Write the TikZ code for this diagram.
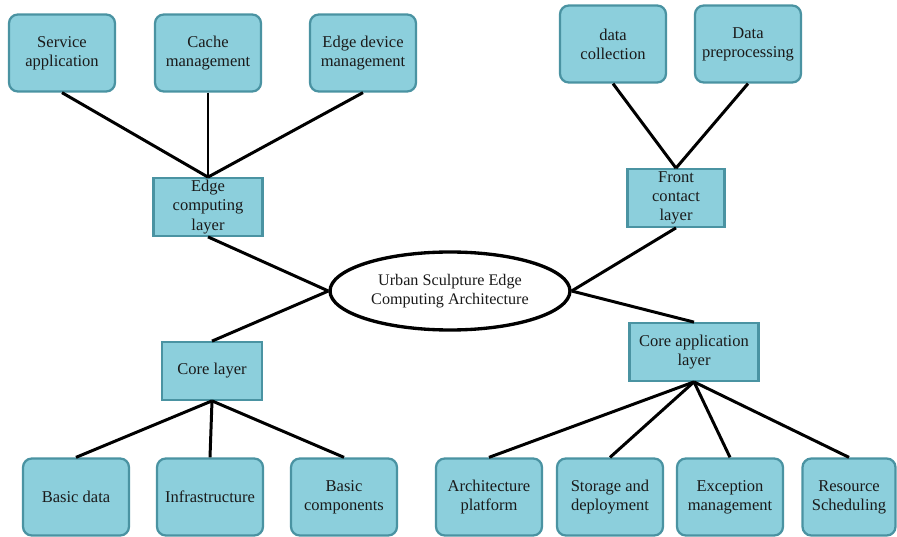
\documentclass[tikz,border=0pt]{standalone}
\usepackage{fontspec}
\setmainfont{Liberation Serif}
\usetikzlibrary{positioning,shapes.geometric}
\definecolor{cBox}{HTML}{8CCFDC}
\definecolor{cRim}{HTML}{4A93A2}
\definecolor{cInk}{HTML}{1A1A1A}
\tikzset{
  leaf/.style={rounded corners=5pt,draw=cRim,line width=1.3pt,fill=cBox,
               minimum width=2.12cm,minimum height=1.54cm,inner sep=1pt,
               align=center,font=\fontsize{9.4}{10.9}\selectfont,text=cInk},
  layer/.style={draw=cRim,line width=1.3pt,fill=cBox,inner sep=0pt,
               minimum height=1.15cm,align=center,
               font=\fontsize{9.4}{10.9}\selectfont,text=cInk},
  hub/.style={ellipse,draw=black,line width=1.9pt,fill=white,
               minimum width=4.8cm,minimum height=1.56cm,inner sep=0pt,
               align=center,font=\fontsize{9.2}{10.4}\selectfont,text=cInk},
  link/.style={draw=black,line width=1.7pt},
}

\begin{document}
\begin{tikzpicture}[x=0.02cm,y=-0.02cm]
  \useasboundingbox (0,0) rectangle (897,537);
  % centre
  \node[hub] (hub) at (450,291) {Urban Sculpture Edge\\Computing Architecture};
  % the four layers
  \node[layer,minimum width=2.18cm] (edge)  at (208,207) {Edge\\computing\\layer};
  \node[layer,minimum width=1.94cm] (front) at (676,198) {Front\\contact\\layer};
  \node[layer,minimum width=2.0cm]  (core)  at (212,371) {Core layer};
  \node[layer,minimum width=2.58cm] (app)   at (694,352) {Core application\\layer};
  % top row
  \node[leaf] (svc)   at (62,53)  {Service\\application};
  \node[leaf] (cache) at (208,53) {Cache\\management};
  \node[leaf] (dev)   at (363,53) {Edge device\\management};
  \node[leaf] (coll)  at (613,44) {data\\collection};
  \node[leaf] (prep)  at (748,44) {Data\\preprocessing};
  % bottom row
  \node[leaf] (bdata) at (76,497)  {Basic data};
  \node[leaf] (infra) at (210,497) {Infrastructure};
  \node[leaf] (bcomp) at (344,497) {Basic\\components};
  \node[leaf] (arch)  at (489,497) {Architecture\\platform};
  \node[leaf] (store) at (610,497) {Storage and\\deployment};
  \node[leaf] (exc)   at (730,497) {Exception\\management};
  \node[leaf,minimum width=1.86cm] (res) at (849,497) {Resource\\Scheduling};

  \foreach \n in {svc,cache,dev}{\draw[link] (\n.south) -- (edge.north);}
  \foreach \n in {coll,prep}{\draw[link] (\n.south) -- (front.north);}
  \foreach \n in {bdata,infra,bcomp}{\draw[link] (core.south) -- (\n.north);}
  \foreach \n in {arch,store,exc,res}{\draw[link] (app.south) -- (\n.north);}
  \draw[link] (edge.south) -- (hub.west);
  \draw[link] (core.north) -- (hub.west);
  \draw[link] (front.south) -- (hub.east);
  \draw[link] (app.north) -- (hub.east);
\end{tikzpicture}
\end{document}
